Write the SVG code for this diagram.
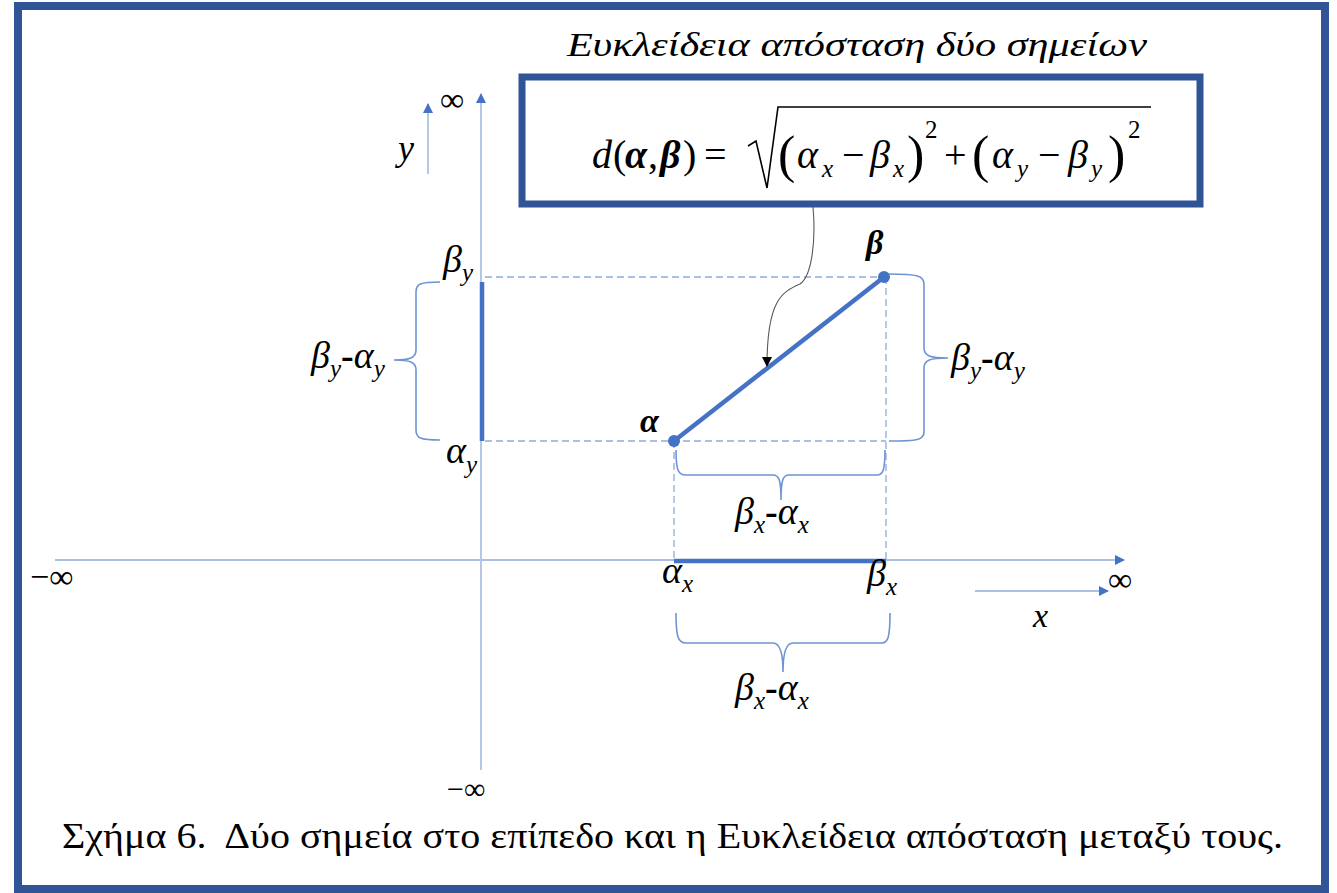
<svg xmlns="http://www.w3.org/2000/svg" width="1337" height="893" viewBox="0 0 1337 893" font-family="'Liberation Serif', 'Times New Roman', serif">
<style>
.s{font-family:'Liberation Serif','Times New Roman',serif;fill:#000}
.i{font-style:italic}
.b{font-weight:bold}
.lbl{font-size:38px}
.sub{font-size:25px}
.dash{stroke:#8FAADC;stroke-width:1.3;stroke-dasharray:7 4;fill:none}
.brace{stroke:#6F94D4;stroke-width:1.6;fill:none}
.thick{stroke:#4472C4;stroke-width:4.5;fill:none}
</style>
<defs>
<marker id="ab" viewBox="0 0 10 10" refX="9" refY="5" markerWidth="10" markerHeight="10" markerUnits="userSpaceOnUse" orient="auto">
<path d="M0,0 L10,5 L0,10 z" fill="#4472C4"/>
</marker>
<marker id="ak" viewBox="0 0 10 10" refX="9" refY="5" markerWidth="10" markerHeight="10" markerUnits="userSpaceOnUse" orient="auto">
<path d="M0,0 L10,5 L0,10 z" fill="#000"/>
</marker>
</defs>
<rect x="0" y="0" width="1337" height="893" fill="#fff"/>
<rect id="frame" x="18" y="6" width="1307" height="883" fill="none" stroke="#2F5597" stroke-width="8"/>

<g id="axes">
<line x1="55" y1="560" x2="1124" y2="560" stroke="#8FAADC" stroke-width="1.6" marker-end="url(#ab)"/>
<line x1="481" y1="770" x2="481" y2="94" stroke="#B4C7E7" stroke-width="2" marker-end="url(#ab)"/>
<line x1="428" y1="174" x2="428" y2="104" stroke="#8FAADC" stroke-width="1.3" marker-end="url(#ab)"/>
<line x1="975" y1="591" x2="1108" y2="591" stroke="#8FAADC" stroke-width="1.3" marker-end="url(#ab)"/>
</g>

<g id="connectors">
<line class="dash" x1="485" y1="277" x2="884" y2="277"/>
<line class="dash" x1="485" y1="441" x2="886" y2="441"/>
<line class="dash" x1="674" y1="441" x2="674" y2="560"/>
<line class="dash" x1="886" y1="277" x2="886" y2="560"/>
<line class="thick" x1="482" y1="282" x2="482" y2="441"/>
<line class="thick" x1="674" y1="561" x2="886" y2="561"/>
<line class="thick" x1="674" y1="441" x2="884" y2="277"/>
<path d="M813,207 C816,240 812,276 800,284 C782,292 767,300 767,366" fill="none" stroke="#595959" stroke-width="1.1" marker-end="url(#ak)"/>
</g>

<g id="braces">
<path class="brace" d="M440,282 C420,282 416,284 416,292 L416,350 C416,358 410,360 394,360 C410,360 416,362 416,370 L416,430 C416,438 420,440 440,440"/>
<path class="brace" d="M889,274 C918,274 924,276 924,284 L924,348 C924,356 930,358 948,358 C930,358 924,360 924,368 L924,432 C924,440 918,441 889,441"/>
<path class="brace" d="M676,450 C676,470 678,475 686,475 L773,475 C779,475 781,480 781,500 C781,480 783,475 789,475 L877,475 C883,475 885,470 885,450"/>
<path class="brace" d="M676,613 C676,637 678,643 686,643 L773,643 C779,643 783,650 783,672 C783,650 787,643 793,643 L882,643 C888,643 890,637 890,613"/>
</g>

<g id="point-alpha">
<circle cx="674" cy="441" r="6" fill="#4472C4"/>
<text class="s i b" x="640" y="432" font-size="34">α</text>
</g>
<g id="point-beta">
<circle cx="884" cy="277" r="6" fill="#4472C4"/>
<text class="s i b" x="866" y="254" font-size="34">β</text>
</g>

<g id="labels">
<text class="s" x="440" y="111" font-size="34">∞</text>
<text class="s i" x="398" y="160" font-size="36">y</text>
<text class="s" x="30" y="588" font-size="34">−∞</text>
<text class="s" x="1108" y="591" font-size="34">∞</text>
<text class="s i" x="1033" y="627" font-size="34">x</text>
<text class="s" x="447" y="799" font-size="30">−∞</text>

<text class="s i lbl" x="443" y="272">β<tspan class="sub" dy="9">y</tspan></text>
<text class="s i lbl" x="446" y="463">α<tspan class="sub" dy="10">y</tspan></text>
<text class="s i lbl" x="311" y="368">β<tspan class="sub" dy="9">y</tspan><tspan dy="-9" font-style="normal" font-weight="bold">-</tspan>α<tspan class="sub" dy="9">y</tspan></text>
<text class="s i lbl" x="951" y="370">β<tspan class="sub" dy="9">y</tspan><tspan dy="-9" font-style="normal" font-weight="bold">-</tspan>α<tspan class="sub" dy="9">y</tspan></text>
<text class="s i lbl" x="735" y="524">β<tspan class="sub" dy="9">x</tspan><tspan dy="-9" font-style="normal" font-weight="bold">-</tspan>α<tspan class="sub" dy="9">x</tspan></text>
<text class="s i lbl" x="735" y="700">β<tspan class="sub" dy="9">x</tspan><tspan dy="-9" font-style="normal" font-weight="bold">-</tspan>α<tspan class="sub" dy="9">x</tspan></text>
<text class="s i lbl" x="662" y="583">α<tspan class="sub" dy="9">x</tspan></text>
<text class="s i lbl" x="867" y="586">β<tspan class="sub" dy="9">x</tspan></text>
</g>

<g id="formula">
<text class="s i" x="567" y="56" font-size="33" textLength="580" lengthAdjust="spacingAndGlyphs">Ευκλείδεια απόσταση δύο σημείων</text>
<rect x="522" y="77" width="678" height="127" fill="#fff" stroke="#2F5597" stroke-width="7"/>
<g font-size="40">
<text class="s i" x="592" y="168">d</text>
<text class="s" x="613" y="168">(</text>
<text class="s i b" x="625" y="168">α</text>
<text class="s" x="648" y="168">,</text>
<text class="s i b" x="660" y="168">β</text>
<text class="s" x="683" y="168">)</text>
<text class="s" x="704" y="168">=</text>
<text class="s" x="778" y="172" font-size="52">(</text>
<text class="s i" x="797" y="168">α</text>
<text class="s i sub" x="822" y="177">x</text>
<text class="s" x="842" y="168">−</text>
<text class="s i" x="870" y="168">β</text>
<text class="s i sub" x="893" y="177">x</text>
<text class="s" x="907" y="172" font-size="52">)</text>
<text class="s sub" x="925" y="138">2</text>
<text class="s" x="944" y="168">+</text>
<text class="s" x="972" y="172" font-size="52">(</text>
<text class="s i" x="992" y="168">α</text>
<text class="s i sub" x="1017" y="177">y</text>
<text class="s" x="1038" y="168">−</text>
<text class="s i" x="1068" y="168">β</text>
<text class="s i sub" x="1091" y="177">y</text>
<text class="s" x="1108" y="172" font-size="52">)</text>
<text class="s sub" x="1128" y="138">2</text>
</g>
<path d="M748,146 L756,141 L767,188 L778,107 L1151,107" fill="none" stroke="#000" stroke-width="1.6"/>
</g>

<g id="caption">
<text class="s" x="62" y="848" font-size="36" textLength="1221" lengthAdjust="spacingAndGlyphs">Σχήμα 6.&#160; Δύο σημεία στο επίπεδο και η Ευκλείδεια απόσταση μεταξύ τους.</text>
</g>
</svg>
